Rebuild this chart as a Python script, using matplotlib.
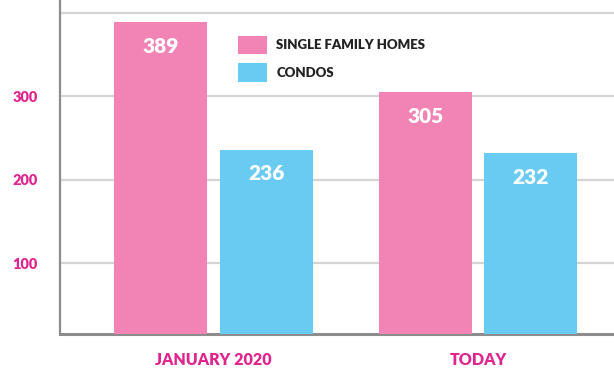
import numpy as np
import matplotlib
matplotlib.use('Agg')
import matplotlib.pyplot as plt

# data
periods = ['JANUARY 2020', 'TODAY']
single_family = [389, 305]
condos = [236, 232]
yticks = [100, 200, 300, 400]
ytick_labels = ['100', '200', '300', '']   # 400 sits off the top of the image
series_names = ['SINGLE FAMILY HOMES', 'CONDOS']

pink = '#f183b5'
blue = '#69caf2'
magenta = '#e0258f'

plt.rcParams['font.family'] = ['Lato', 'DejaVu Sans']

fig = plt.figure(figsize=(6.14, 3.72), dpi=100)
ax = fig.add_axes([60 / 614, 38 / 372, 1 - 60 / 614, 334 / 372])

x = np.arange(len(periods))
w = 0.352
off = 0.2
b1 = ax.bar(x - off, single_family, w, color=pink, label=series_names[0], zorder=3)
b2 = ax.bar(x + off, condos, w, color=blue, label=series_names[1], zorder=3)

for bars in (b1, b2):
    for rect in bars:
        h = rect.get_height()
        ax.text(rect.get_x() + rect.get_width() / 2, h - 29, str(int(h)),
                ha='center', va='center', color='white', fontsize=15,
                fontweight='heavy', zorder=4)

ax.set_xlim(-0.58, 1.514)
ax.set_ylim(15, 415.6)
ax.set_yticks(yticks)
ax.set_yticklabels(ytick_labels)
ax.set_xticks(x)
ax.set_xticklabels(periods)

ax.grid(axis='y', color='#d4d4d4', linewidth=1.6, zorder=0)
ax.set_axisbelow(True)
for s in ['top', 'right']:
    ax.spines[s].set_visible(False)
ax.spines['left'].set_color('#8c8c8c')
ax.spines['left'].set_linewidth(1.6)
ax.spines['bottom'].set_color('#8c8c8c')
ax.spines['bottom'].set_linewidth(2.2)

ax.tick_params(axis='y', length=0, pad=16, labelcolor=magenta, labelsize=10.5)
ax.tick_params(axis='x', length=0, pad=13, labelcolor=magenta, labelsize=11.5)
for lab in ax.get_yticklabels() + ax.get_xticklabels():
    lab.set_fontweight('heavy')

leg = ax.legend(loc='upper left', bbox_to_anchor=(238 / 614, 1 - 36 / 372),
                bbox_transform=fig.transFigure, frameon=False, fontsize=9.5,
                handlelength=2.2, handleheight=1.75, handletextpad=0.7,
                labelspacing=0.7, borderpad=0, borderaxespad=0)
for t in leg.get_texts():
    t.set_fontweight('heavy')
    t.set_color('#222222')

fig.savefig('out.png', dpi=100)
